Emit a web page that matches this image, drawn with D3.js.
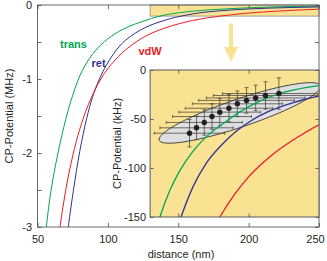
<!DOCTYPE html>
<html>
<head>
<meta charset="utf-8">
<script src="https://cdn.jsdelivr.net/npm/d3@7"></script>
<style>
    body { margin: 0; background: #fff; }
    text { font-family: "Liberation Sans", Arial, sans-serif; }
</style>
</head>
<body>
<div id="chart"></div>
<script>
// CP potential curves: [distance nm, potential MHz]
const transCurve = [[55.6,-3.12],[58,-2.72],[61,-2.35],[65,-1.96],[70,-1.55],[75,-1.22],[80,-0.96],[87,-0.72],
    [95,-0.54],[105,-0.39],[115,-0.29],[125,-0.22],[137,-0.150],[144,-0.123],[151,-0.103],[161,-0.082],
    [170,-0.068],[184,-0.0525],[194,-0.0425],[206,-0.033],[220,-0.025],[234,-0.0198],[250,-0.016]];
const retCurve = [[71.2,-3.1],[72,-2.98],[75.4,-2.52],[80,-1.98],[85,-1.53],[89,-1.25],[94,-1.0],[99,-0.81],
    [104,-0.66],[109,-0.54],[116,-0.425],[123,-0.34],[130,-0.275],[137,-0.227],[144,-0.186],[152,-0.150],
    [160.7,-0.1185],[170.2,-0.0945],[180.8,-0.0765],[190.3,-0.0635],[200.9,-0.0525],[215,-0.0418],[231.7,-0.0332],[250,-0.0265]];
const vdwCurve = [[65.3,-3.1],[66,-3.0],[70,-2.51],[75,-2.04],[80,-1.68],[85,-1.40],[90,-1.18],[95,-1.0],
    [100,-0.86],[110,-0.65],[120,-0.50],[130,-0.39],[140,-0.315],[150,-0.256],[160,-0.21],[170,-0.176],
    [180,-0.149],[190,-0.127],[200,-0.109],[210,-0.095],[220,-0.083],[230,-0.073],[240,-0.064],[250,-0.056]];

// measured points shown in the inset (nm, kHz)
const pointDist = [158, 163, 168.5, 174, 179.5, 186, 192, 198.5, 205, 212, 221.5];
const pointPot = [-64.5, -59, -53.5, -47.5, -43, -39, -34.5, -31, -28.5, -26, -24];
const pointDistErr = [25, 26, 27, 28, 29, 31, 32, 34, 35, 37, 40];
const pointPotErr = [14, 12, 13, 13, 14, 14, 13, 13, 13, 14, 16];

// fit ellipse (nm, kHz): center and the two half axes
const ellipseCenter = [193.8, -43.8];
const ellipseAxisA = [57.3, 27.8];
const ellipseAxisB = [3.2, -13.5];

const curveNames = ["trans", "ret", "vdW"];
const mainXTicks = [50, 100, 150, 200, 250];
const mainYTicks = [0, -0.5, -1, -1.5, -2, -2.5, -3];
const insetXDomain = [130, 250];
const insetYDomain = [-150, 0];
const insetXTicks = [150, 200];
const insetYTicks = [0, -50, -100, -150];
const arrowDist = 187.5;
const arrowRange = [-0.25, -0.77];

const width = 327, height = 261;
const margin = {top: 5, right: 8, bottom: 34, left: 37.5};
const colors = {trans: "#00a651", ret: "#2e3192", vdW: "#ed1c24"};
const curves = {trans: transCurve, ret: retCurve, vdW: vdwCurve};
const yellow = "#f9e393";
const axisColor = "#58595b";
const textColor = "#231f20";

const svg = d3.select("#chart").append("svg")
    .attr("width", width)
    .attr("height", height);

const x = d3.scaleLinear().domain([50, 250]).range([margin.left, width - margin.right]);
const y = d3.scaleLinear().domain([-3, 0]).range([height - margin.bottom, margin.top]);

svg.append("clipPath").attr("id", "mainClip")
    .append("rect")
    .attr("x", x(50)).attr("y", y(0))
    .attr("width", x(250) - x(50)).attr("height", y(-3) - y(0));

// zoom region highlighted in main plot
svg.append("rect")
    .attr("x", x(insetXDomain[0]))
    .attr("y", y(0))
    .attr("width", x(insetXDomain[1]) - x(insetXDomain[0]))
    .attr("height", y(insetYDomain[0] / 1000) - y(0))
    .attr("fill", yellow)
    .attr("stroke", "#8a8a8a")
    .attr("stroke-width", 0.8);

const mainLine = d3.line()
    .x(d => x(d[0]))
    .y(d => y(d[1]))
    .curve(d3.curveMonotoneX);

svg.append("g").attr("clip-path", "url(#mainClip)")
    .selectAll("path")
    .data(curveNames)
    .enter()
    .append("path")
    .attr("d", k => mainLine(curves[k]))
    .attr("fill", "none")
    .attr("stroke", k => colors[k])
    .attr("stroke-width", 1);

function styleAxis(g) {
    g.select(".domain").remove();
    g.attr("font-family", null).attr("font-size", 11);
    g.selectAll(".tick line").attr("stroke", axisColor).attr("stroke-width", 0.9);
    g.selectAll(".tick text").attr("fill", textColor);
}

// main axes, ticks on all four sides
svg.append("g")
    .attr("transform", `translate(0,${y(-3)})`)
    .call(d3.axisBottom(x).tickValues(mainXTicks).tickSize(-4).tickSizeOuter(0).tickPadding(8).tickFormat(d => d))
    .call(styleAxis)
    .selectAll(".tick text")
    .attr("dx", d => d === 250 ? -4 : 0);

svg.append("g")
    .attr("transform", `translate(0,${y(0)})`)
    .call(d3.axisTop(x).tickValues(mainXTicks).tickSize(-4).tickSizeOuter(0).tickFormat(""))
    .call(styleAxis);

svg.append("g")
    .attr("transform", `translate(${x(50)},0)`)
    .call(d3.axisLeft(y).tickValues(mainYTicks).tickSize(-4).tickSizeOuter(0).tickPadding(5.5)
        .tickFormat(d => Number.isInteger(d) ? d : ""))
    .call(styleAxis);

svg.append("g")
    .attr("transform", `translate(${x(250)},0)`)
    .call(d3.axisRight(y).tickValues(mainYTicks).tickSize(-4).tickSizeOuter(0).tickFormat(""))
    .call(styleAxis);

svg.append("rect")
    .attr("x", x(50)).attr("y", y(0))
    .attr("width", x(250) - x(50)).attr("height", y(-3) - y(0))
    .attr("fill", "none")
    .attr("stroke", axisColor)
    .attr("stroke-width", 0.9);

// curve labels
const labelPos = {trans: [60, 48], ret: [91.5, 66.5], vdW: [138.5, 55]};
svg.selectAll(".curveLabel")
    .data(curveNames)
    .enter()
    .append("text")
    .attr("class", "curveLabel")
    .attr("x", k => labelPos[k][0])
    .attr("y", k => labelPos[k][1])
    .attr("fill", k => colors[k])
    .attr("font-size", 11)
    .attr("font-weight", "bold")
    .text(k => k);

// arrow from zoom box to inset
const ax = x(arrowDist), ay0 = y(arrowRange[0]), ay1 = y(arrowRange[1]);
svg.append("path")
    .attr("d", `M${ax - 2},${ay0} L${ax + 2},${ay0} L${ax + 2},${ay1 - 15} L${ax + 7},${ay1 - 15} L${ax},${ay1} ` +
        `L${ax - 7},${ay1 - 15} L${ax - 2},${ay1 - 15} Z`)
    .attr("fill", yellow);

// ---- inset ----
const xIn = d3.scaleLinear().domain(insetXDomain).range([x(insetXDomain[0]), x(insetXDomain[1])]);
const yIn = d3.scaleLinear().domain(insetYDomain).range([217, 70]);

const inset = svg.append("g");
inset.append("clipPath").attr("id", "insetClip")
    .append("rect")
    .attr("x", xIn(insetXDomain[0])).attr("y", yIn(0))
    .attr("width", xIn(insetXDomain[1]) - xIn(insetXDomain[0]))
    .attr("height", yIn(-150) - yIn(0));

inset.append("rect")
    .attr("x", xIn(insetXDomain[0])).attr("y", yIn(0))
    .attr("width", xIn(insetXDomain[1]) - xIn(insetXDomain[0]))
    .attr("height", yIn(-150) - yIn(0))
    .attr("fill", yellow);

const plot = inset.append("g").attr("clip-path", "url(#insetClip)");

const ellipsePts = d3.range(0, 361, 4).map(a => {
    const t = a * Math.PI / 180;
    return [ellipseCenter[0] + Math.cos(t) * ellipseAxisA[0] + Math.sin(t) * ellipseAxisB[0],
        ellipseCenter[1] + Math.cos(t) * ellipseAxisA[1] + Math.sin(t) * ellipseAxisB[1]];
});
plot.append("path")
    .attr("d", d3.line().x(d => xIn(d[0])).y(d => yIn(d[1]))(ellipsePts) + "Z")
    .attr("fill", "#dedfe0")
    .attr("stroke", textColor)
    .attr("stroke-width", 0.8);

const pts = pointDist.map((d, i) => ({d: d, v: pointPot[i], ed: pointDistErr[i], ev: pointPotErr[i]}));

const bars = plot.append("g").attr("stroke", "#3a3530").attr("stroke-width", 0.7);
pts.forEach(p => {
    const cx = xIn(p.d), cy = yIn(p.v);
    const xl = xIn(p.d - p.ed), xr = xIn(p.d + p.ed);
    const yt = yIn(p.v + p.ev), yb = yIn(p.v - p.ev);
    bars.append("line").attr("x1", xl).attr("x2", xr).attr("y1", cy).attr("y2", cy);
    bars.append("line").attr("x1", xl).attr("x2", xl).attr("y1", cy - 1.5).attr("y2", cy + 1.5);
    bars.append("line").attr("x1", xr).attr("x2", xr).attr("y1", cy - 1.5).attr("y2", cy + 1.5);
    bars.append("line").attr("x1", cx).attr("x2", cx).attr("y1", yt).attr("y2", yb);
    bars.append("line").attr("x1", cx - 2).attr("x2", cx + 2).attr("y1", yt).attr("y2", yt);
    bars.append("line").attr("x1", cx - 2).attr("x2", cx + 2).attr("y1", yb).attr("y2", yb);
});

const insetLine = d3.line()
    .x(d => xIn(d[0]))
    .y(d => yIn(d[1] * 1000))
    .curve(d3.curveMonotoneX);

plot.selectAll(".insetCurve")
    .data(curveNames)
    .enter()
    .append("path")
    .attr("class", "insetCurve")
    .attr("d", k => insetLine(curves[k].filter(p => p[0] >= 120)))
    .attr("fill", "none")
    .attr("stroke", k => colors[k])
    .attr("stroke-width", 1.3);

plot.selectAll("circle")
    .data(pts)
    .enter()
    .append("circle")
    .attr("cx", p => xIn(p.d))
    .attr("cy", p => yIn(p.v))
    .attr("r", 2.7)
    .attr("fill", textColor);

// inset axes
inset.append("g")
    .attr("transform", `translate(${xIn(insetXDomain[0])},0)`)
    .call(d3.axisLeft(yIn).tickValues(insetYTicks).tickSize(-3.5).tickSizeOuter(0).tickPadding(4).tickFormat(d => d))
    .call(styleAxis);
inset.append("g")
    .attr("transform", `translate(${xIn(insetXDomain[1])},0)`)
    .call(d3.axisRight(yIn).tickValues(insetYTicks).tickSize(-3.5).tickSizeOuter(0).tickFormat(""))
    .call(styleAxis);
inset.append("g")
    .attr("transform", `translate(0,${yIn(0)})`)
    .call(d3.axisTop(xIn).tickValues(insetXTicks).tickSize(-3.5).tickSizeOuter(0).tickFormat(""))
    .call(styleAxis);
inset.append("g")
    .attr("transform", `translate(0,${yIn(-150)})`)
    .call(d3.axisBottom(xIn).tickValues(insetXTicks).tickSize(-3.5).tickSizeOuter(0).tickFormat(""))
    .call(styleAxis);

inset.append("rect")
    .attr("x", xIn(insetXDomain[0])).attr("y", yIn(0))
    .attr("width", xIn(insetXDomain[1]) - xIn(insetXDomain[0]))
    .attr("height", yIn(-150) - yIn(0))
    .attr("fill", "none")
    .attr("stroke", axisColor)
    .attr("stroke-width", 1);

// axis titles
svg.append("text")
    .attr("transform", `translate(12.5,${(y(0) + y(-3)) / 2}) rotate(-90)`)
    .attr("text-anchor", "middle")
    .attr("font-size", 11)
    .attr("fill", textColor)
    .text("CP-Potential (MHz)");

svg.append("text")
    .attr("transform", `translate(121,${(yIn(0) + yIn(-150)) / 2}) rotate(-90)`)
    .attr("text-anchor", "middle")
    .attr("font-size", 11)
    .attr("fill", textColor)
    .text("CP-Potential (kHz)");

svg.append("text")
    .attr("x", 181)
    .attr("y", 258)
    .attr("text-anchor", "middle")
    .attr("font-size", 11)
    .attr("fill", textColor)
    .text("distance (nm)");
</script>
</body>
</html>
